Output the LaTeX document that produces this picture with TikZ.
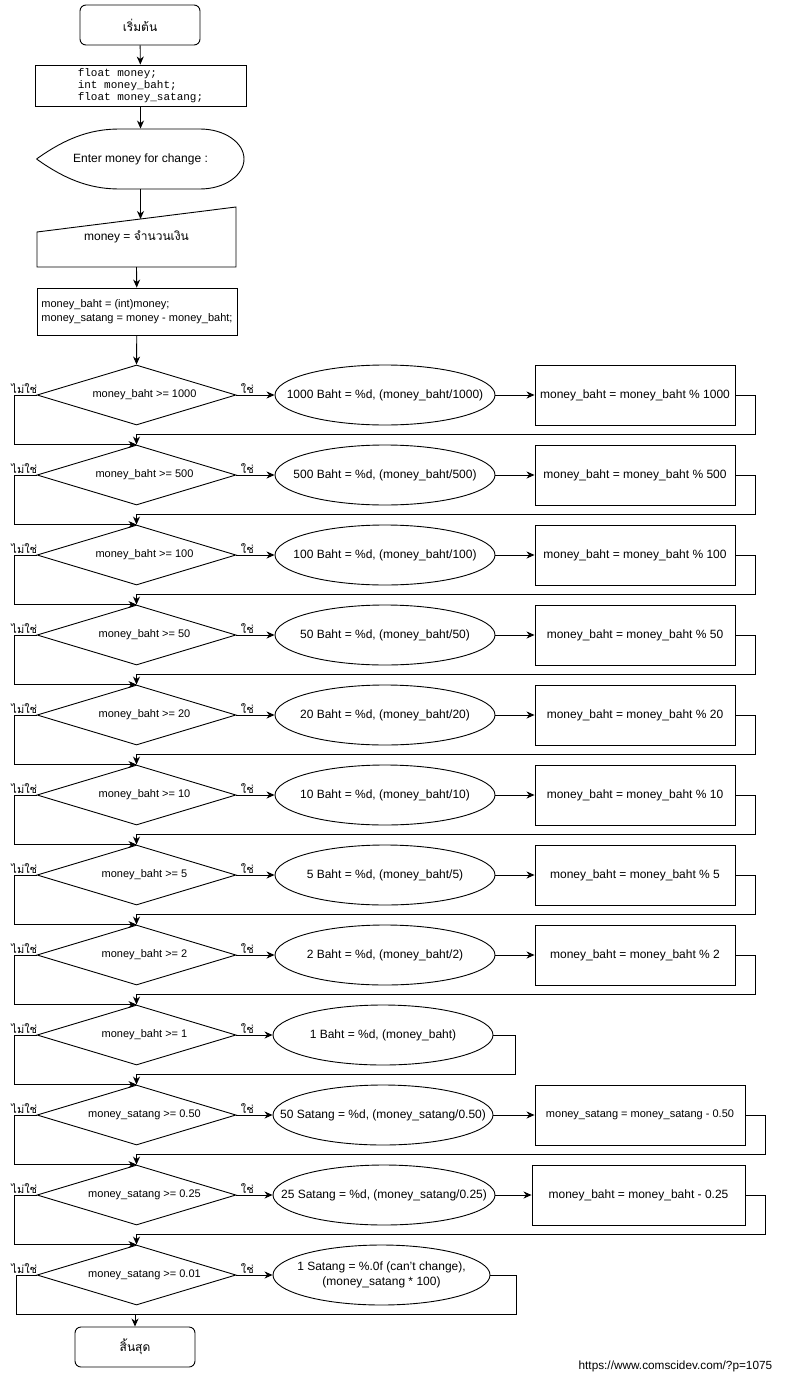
\documentclass[tikz,border=0pt]{standalone}
\usepackage{fontspec}
\setmainfont{Liberation Sans}
\setmonofont{Liberation Mono}
\newfontfamily\thaifont[Script=Thai]{Loma}
\usetikzlibrary{shapes.geometric,arrows.meta}

\begin{document}
\begin{tikzpicture}[
    x=1pt, y=-1pt,
    term/.style={
      rectangle,
      draw,
      rounded corners=6pt,
      minimum width=120pt,
      minimum height=40pt,
      font=\thaifont\fontsize{12}{14}\selectfont
    },
    decl/.style={
      rectangle,
      draw,
      minimum width=211pt,
      minimum height=41pt,
      align=left,
      font=\ttfamily\fontsize{11}{12}\selectfont
    },
    proc/.style={
      rectangle,
      draw,
      minimum width=200pt,
      minimum height=47pt,
      align=left,
      font=\fontsize{11}{14}\selectfont
    },
    cond/.style={
      diamond,
      draw,
      aspect=3.3,
      inner sep=2pt,
      minimum width=199pt,
      minimum height=60pt,
      execute at begin node={\hspace*{16pt}},
      font=\fontsize{11}{13}\selectfont
    },
    outp/.style={
      ellipse,
      draw,
      inner sep=0pt,
      minimum width=220pt,
      minimum height=60pt
    },
    upd/.style={
      rectangle,
      draw,
      minimum width=200pt,
      minimum height=60pt,
      font=\fontsize{12}{14}\selectfont
    },
    lbl/.style={
      inner sep=1pt,
      font=\thaifont\fontsize{11}{13}\selectfont
    },
    line/.style={
      line width=0.9pt,
      -{Stealth[length=8pt,width=7pt,inset=2.5pt]}
    },
    every label/.append style={
      align=center,
      font=\fontsize{12}{15}\selectfont
    },
    every path/.append style={line width=0.9pt}
  ]

    \useasboundingbox (0,0) rectangle (802,1381);

    % Start and declarations
    \node[term] (start) at (140,25) {เริ่มต้น};
    \node[decl] (vars) at (140.5,85.5) {float money;\\int money\_baht;\\float money\_satang;};

    % Display prompt
    \node[font=\fontsize{12}{14}\selectfont, minimum width=207pt, minimum height=60pt] (disp) at (140.5,159) {Enter money for change :};
    \draw (disp.west) .. controls (70,135) and (95,129) .. (120,129) -- (200,129)
      arc[start angle=-90, end angle=90, x radius=44, y radius=30]
      -- (120,189) .. controls (95,189) and (70,183) .. (disp.west);

    % Manual input
    \node[font=\fontsize{12}{14}\selectfont] (inp) at (136.5,237) {money = {\thaifont จำนวนเงิน}};
    \draw (37,232) -- (236,207) -- (236,267) -- (37,267) -- cycle;
    \coordinate (inptop) at (140.5,219);
    \coordinate (inpbot) at (136.5,267);

    % Split into baht and satang
    \node[proc] (split) at (137,311.5) {money\_baht = (int)money;\\money\_satang = money - money\_baht;};

    \draw[line] (start) -- (vars);
    \draw[line] (vars) -- (disp.north);
    \draw[line] (disp.south) -- (inptop);
    \draw[line] (inpbot) -- (split);

    % Baht rows
    \foreach \i/\v in {1/1000,2/500,3/100,4/50,5/20,6/10,7/5,8/2} {
      \pgfmathsetmacro{\yy}{395+80*(\i-1)}
      \node[cond] (d\i) at (136.5,\yy) {money\_baht >= \v};
      \node[outp, label=center:{\v\ Baht = \%d, (money\_baht/\v)}] (o\i) at (385,\yy) {};
      \node[upd] (u\i) at (635,\yy) {money\_baht = money\_baht \% \v};
    }

    \node[cond] (d9) at (136.5,1035) {money\_baht >= 1};
    \node[outp, label=center:{1 Baht = \%d, (money\_baht)}] (o9) at (383,1035) {};

    % Satang rows
    \node[cond] (d10) at (136.5,1115) {money\_satang >= 0.50};
    \node[outp, label=center:{50 Satang = \%d, (money\_satang/0.50)}] (o10) at (383,1115) {};
    \node[upd, minimum width=210pt, font=\fontsize{11}{13}\selectfont] (u10) at (640,1115) {money\_satang = money\_satang - 0.50};

    \node[cond] (d11) at (136.5,1195) {money\_satang >= 0.25};
    \node[outp, minimum width=222pt, label=center:{25 Satang = \%d, (money\_satang/0.25)}] (o11) at (384,1195) {};
    \node[upd, minimum width=213pt] (u11) at (638.5,1195) {money\_baht = money\_baht - 0.25};

    \node[cond] (d12) at (136.5,1275) {money\_satang >= 0.01};
    \node[outp, minimum width=217pt, label=center:{1 Satang = \%.0f (can't change),\\(money\_satang * 100)}] (o12) at (381.5,1275) {};

    \node[term] (stop) at (135,1347) {สิ้นสุด};

    \draw[line] (split) -- (d1.north);

    % Yes / no labels and arrows
    \foreach \i in {1,...,12} {
      \node[lbl, anchor=south east] (no\i) at ([xshift=2pt]d\i.west) {ไม่ใช่};
      \node[lbl, anchor=south west] (yes\i) at ([xshift=3pt]d\i.east) {ใช่};
      \draw[line] (d\i.east) -- (o\i.west);
    }

    \foreach \i [evaluate=\i as \j using int(\i+1)] in {1,...,11} {
      \draw[line] (d\i.west) -- ++(-22,0) |- (d\j.north);
    }

    \foreach \i [evaluate=\i as \j using int(\i+1)] in {1,2,3,4,5,6,7,8,10,11} {
      \draw[line] (o\i.east) -- (u\i.west);
      \draw[line] (u\i.east) -- ++(20,0) |- ([yshift=10pt]d\j.north) -- (d\j.north);
    }

    \draw[line] (o9.east) -- ++(22,0) |- ([yshift=10pt]d10.north) -- (d10.north);

    % Last row into end
    \draw[line] (o12.east) -- ++(26,0) |- ([yshift=12pt]stop.north) -- (stop.north);
    \draw (d12.west) -- ++(-20,0) |- ([yshift=12pt]stop.north);

    \node[anchor=east, font=\fontsize{11.8}{13}\selectfont] (url) at (776,1366) {https://www.comscidev.com/?p=1075};

\end{tikzpicture}
\end{document}
